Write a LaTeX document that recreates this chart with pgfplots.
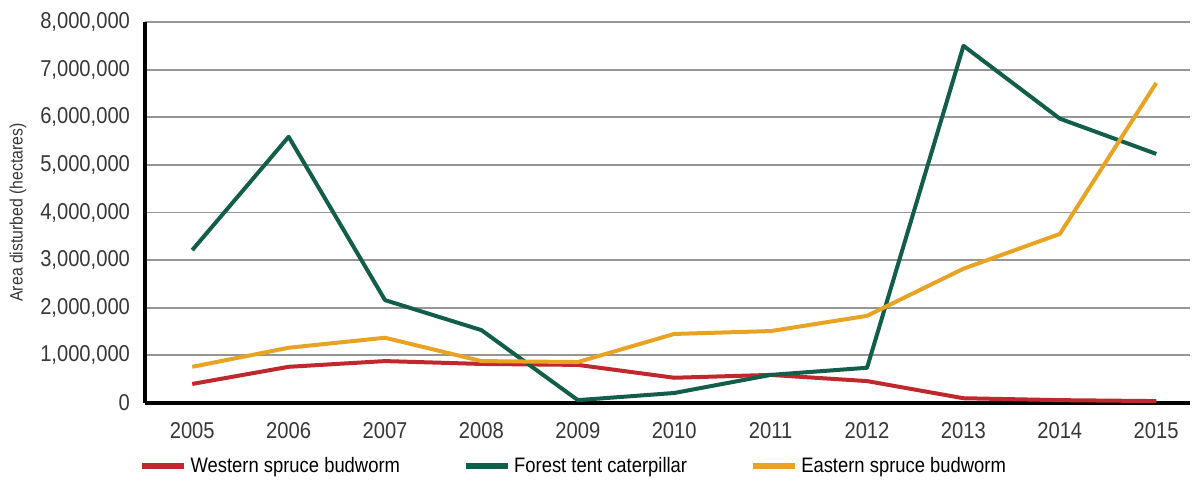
\documentclass[border=0pt]{standalone}
\usepackage{fontspec}
\setmainfont[FakeStretch=0.88]{Liberation Sans}
\usepackage{pgfplots}
\pgfplotsset{compat=1.18}
\definecolor{wsb}{RGB}{192,40,45}
\definecolor{ftc}{RGB}{18,94,74}
\definecolor{esb}{RGB}{232,163,35}
\definecolor{gridc}{RGB}{150,150,150}
\definecolor{txt}{RGB}{55,55,55}
\begin{document}
\begin{tikzpicture}
\useasboundingbox (0,0) rectangle (600bp,240bp);
\begin{axis}[
  at={(72.5bp,38.5bp)}, anchor=south west,
  scale only axis, width=522.5bp, height=190.5bp,
  xmin=2004.51, xmax=2015.35,
  ymin=0, ymax=8000000,
  xtick={2005,...,2015},
  ytick={0,1000000,...,8000000},
  scaled y ticks=false,
  /pgf/number format/assume math mode=true,
  yticklabel style={/pgf/number format/.cd, fixed, 1000 sep={,}},
  xticklabel style={/pgf/number format/.cd, 1000 sep={}},
  tick label style={font=\fontsize{11.5}{13}\selectfont, text=txt},
  major tick length=0pt,
  axis x line*=bottom, axis y line*=left,
  axis line style={line width=2bp, black, -},
  ymajorgrids, grid style={gridc, line width=0.9bp},
  yticklabel shift=4bp,
  xticklabel shift=6bp,
  ylabel={Area disturbed (hectares)},
  ylabel style={at={(axis description cs:0,0.5)}, anchor=center, yshift=63.5bp, font=\fontsize{9}{11}\selectfont, text=txt},
  legend columns=3,
  legend style={draw=none, fill=none, at={(rel axis cs:0,0)}, anchor=west, xshift=-3bp, yshift=-31.5bp,
    font=\fontsize{10.5}{12}\selectfont, inner sep=0pt,
    /tikz/every even column/.append style={column sep=29.5bp}},
  legend image code/.code={\draw[#1, line width=2.6bp] (0bp,0bp) -- (21bp,0bp);},
  every axis plot/.append style={line width=2bp, line join=round},
]
\addplot[wsb] coordinates {(2005,400000) (2006,760000) (2007,880000) (2008,820000) (2009,800000) (2010,530000) (2011,590000) (2012,460000) (2013,100000) (2014,60000) (2015,40000)};
\addlegendentry{Western spruce budworm}
\addplot[ftc] coordinates {(2005,3210000) (2006,5590000) (2007,2160000) (2008,1530000) (2009,60000) (2010,210000) (2011,590000) (2012,740000) (2013,7500000) (2014,5970000) (2015,5230000)};
\addlegendentry{Forest tent caterpillar}
\addplot[esb] coordinates {(2005,760000) (2006,1160000) (2007,1370000) (2008,880000) (2009,860000) (2010,1450000) (2011,1510000) (2012,1830000) (2013,2820000) (2014,3550000) (2015,6720000)};
\addlegendentry{Eastern spruce budworm}
\end{axis}
\end{tikzpicture}
\end{document}
